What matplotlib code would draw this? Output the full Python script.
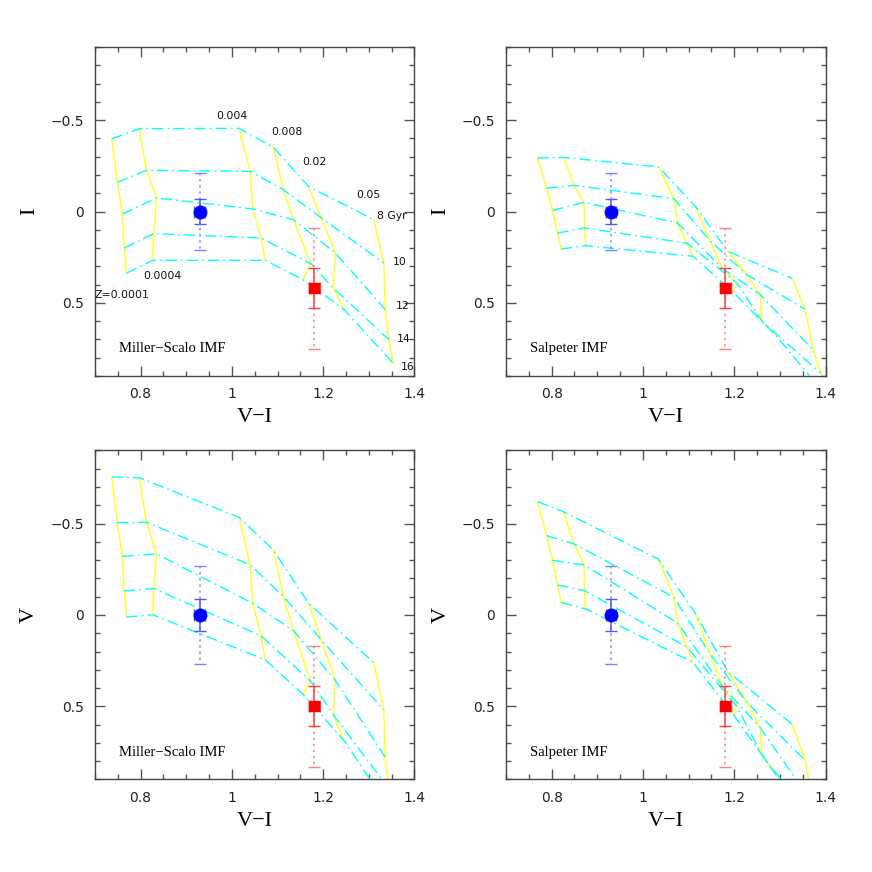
import matplotlib
matplotlib.use('Agg')
import numpy as np
import matplotlib.pyplot as plt
from matplotlib.ticker import MultipleLocator, FuncFormatter

# model grid: rows = metallicity Z, columns = age (Gyr)
metals = ['0.0001', '0.0004', '0.004', '0.008', '0.02', '0.05']
ages = [8, 10, 12, 14, 16]

# Miller-Scalo IMF
vi_ms = [[0.737, 0.749, 0.760, 0.764, 0.769],
         [0.797, 0.813, 0.835, 0.829, 0.827],
         [1.016, 1.040, 1.046, 1.064, 1.073],
         [1.091, 1.113, 1.135, 1.173, 1.156],
         [1.168, 1.196, 1.227, 1.222, 1.246],
         [1.311, 1.333, 1.336, 1.344, 1.353]]
i_ms = [[-0.398, -0.159, 0.014, 0.200, 0.337],
        [-0.453, -0.225, -0.074, 0.121, 0.267],
        [-0.455, -0.220, -0.014, 0.145, 0.267],
        [-0.351, -0.119, 0.045, 0.285, 0.373],
        [-0.137, 0.035, 0.227, 0.418, 0.537],
        [0.045, 0.282, 0.537, 0.701, 0.829]]
v_ms = [[-0.756, -0.505, -0.321, -0.131, 0.011],
        [-0.751, -0.507, -0.334, -0.145, -0.001],
        [-0.534, -0.275, -0.063, 0.114, 0.245],
        [-0.355, -0.101, 0.085, 0.363, 0.434],
        [-0.064, 0.136, 0.359, 0.545, 0.688],
        [0.261, 0.520, 0.778, 0.950, 1.087]]

# Salpeter IMF
vi_sal = [[0.769, 0.789, 0.802, 0.813, 0.821],
          [0.826, 0.849, 0.871, 0.872, 0.875],
          [1.034, 1.068, 1.076, 1.096, 1.110],
          [1.115, 1.148, 1.173, 1.206, 1.198],
          [1.186, 1.228, 1.257, 1.261, 1.290],
          [1.327, 1.355, 1.374, 1.390, 1.405]]
i_sal = [[-0.293, -0.128, -0.006, 0.118, 0.205],
         [-0.296, -0.143, -0.050, 0.090, 0.187],
         [-0.244, -0.070, 0.063, 0.173, 0.245],
         [-0.028, 0.163, 0.309, 0.391, 0.442],
         [0.218, 0.346, 0.455, 0.601, 0.674],
         [0.366, 0.535, 0.760, 0.885, 1.020]]
v_sal = [[-0.619, -0.434, -0.299, -0.164, -0.069],
         [-0.565, -0.389, -0.274, -0.133, -0.033],
         [-0.305, -0.097, 0.044, 0.174, 0.260],
         [-0.008, 0.216, 0.387, 0.502, 0.545],
         [0.309, 0.479, 0.617, 0.767, 0.869],
         [0.598, 0.795, 1.039, 1.180, 1.330]]

# observed objects (blue circle, red square)
obs_vi = [0.93, 1.18]
obs_i = [0.0, 0.42]
obs_v = [0.0, 0.50]
err_vi = [0.012, 0.012]
err_i_in = [0.07, 0.11]
err_i_out = [0.21, 0.33]
err_v_in = [0.09, 0.11]
err_v_out = [0.27, 0.33]

SERIF = 'Liberation Serif'
YEL = '#ffff20'
CYN = '#00ffff'

fig = plt.figure(figsize=(8.72, 8.72), dpi=100)
lefts = [0.1089, 0.5803]
bottoms = [0.5688, 0.1061]
w, h = 0.3664, 0.3773


def fmt(v, pos):
    s = '%g' % v
    return s.replace('-', '\u2212')


def panel(ax, vi, mag, emag_in, emag_out, obs_mag, ylab, imf):
    vi = np.array(vi); mag = np.array(mag)
    for k in range(len(metals)):
        ax.plot(vi[k], mag[k], color=YEL, lw=1.0, zorder=2)
    for j in range(len(ages)):
        ax.plot(vi[:, j], mag[:, j], color=CYN, lw=1.0,
                ls=(0, (8, 3, 1.2, 3)), zorder=3)
    cols = [('#0000ff', '#5555ff', '#8080ff', 'o', 9),
            ('#ff0000', '#ff4040', '#ff8080', 's', 7)]
    for n, (c, cin, cout, m, ms) in enumerate(cols):
        eb = ax.errorbar(obs_vi[n], obs_mag[n], yerr=emag_out[n], fmt='none',
                         ecolor=cout, elinewidth=1.1, capsize=4, capthick=1, zorder=4)
        eb[2][0].set_linestyle((0, (1.5, 2.5)))
        ax.errorbar(obs_vi[n], obs_mag[n], yerr=emag_in[n], xerr=err_vi[n], fmt='none',
                    ecolor=cin, elinewidth=1.1, capsize=4, capthick=1, zorder=5)
        ax.plot(obs_vi[n], obs_mag[n], m, color=c, ms=ms, mec=c, zorder=6)
    ax.set_xlim(0.7, 1.4)
    ax.set_ylim(0.9, -0.9)
    ax.xaxis.set_major_locator(MultipleLocator(0.2))
    ax.xaxis.set_minor_locator(MultipleLocator(0.05))
    ax.yaxis.set_major_locator(MultipleLocator(0.5))
    ax.yaxis.set_minor_locator(MultipleLocator(0.1))
    ax.xaxis.set_major_formatter(FuncFormatter(fmt))
    ax.yaxis.set_major_formatter(FuncFormatter(fmt))
    ax.tick_params(which='both', direction='in', top=True, right=True,
                   color='#555555', labelsize=10, labelcolor='#222222')
    ax.tick_params(which='major', length=7, width=1, pad=8)
    ax.tick_params(which='minor', length=3.6, width=1)
    for s in ax.spines.values():
        s.set_color('#444444'); s.set_linewidth(1.0)
    ax.set_xlabel('V\u2212I', family=SERIF, fontsize=16, labelpad=5)
    ax.set_ylabel(ylab, family=SERIF, fontsize=16, labelpad=8)
    ax.text(0.752, 0.75, imf, family=SERIF, fontsize=10.5, va='center', ha='left')


ax1 = fig.add_axes([lefts[0], bottoms[0], w, h])
panel(ax1, vi_ms, i_ms, err_i_in, err_i_out, obs_i, 'I', 'Miller\u2212Scalo IMF')
ax2 = fig.add_axes([lefts[1], bottoms[0], w, h])
panel(ax2, vi_sal, i_sal, err_i_in, err_i_out, obs_i, 'I', 'Salpeter IMF')
ax3 = fig.add_axes([lefts[0], bottoms[1], w, h])
panel(ax3, vi_ms, v_ms, err_v_in, err_v_out, obs_v, 'V', 'Miller\u2212Scalo IMF')
ax4 = fig.add_axes([lefts[1], bottoms[1], w, h])
panel(ax4, vi_sal, v_sal, err_v_in, err_v_out, obs_v, 'V', 'Salpeter IMF')

# grid labels in the first panel
small = dict(fontsize=7.8, ha='center', va='center', color='#111111')
ax1.text(0.759, 0.455, 'Z=' + metals[0], **small)
ax1.text(0.848, 0.351, metals[1], **small)
ax1.text(1.000, -0.524, metals[2], **small)
ax1.text(1.121, -0.433, metals[3], **small)
ax1.text(1.181, -0.269, metals[4], **small)
ax1.text(1.300, -0.092, metals[5], **small)
ax1.text(1.350, 0.027, '%d Gyr' % ages[0], **small)
for a, yy, xx in zip(ages[1:], [0.278, 0.519, 0.698, 0.851], [1.367, 1.374, 1.377, 1.384]):
    ax1.text(xx, yy, str(a), **small)

fig.savefig('out.png', dpi=100)
